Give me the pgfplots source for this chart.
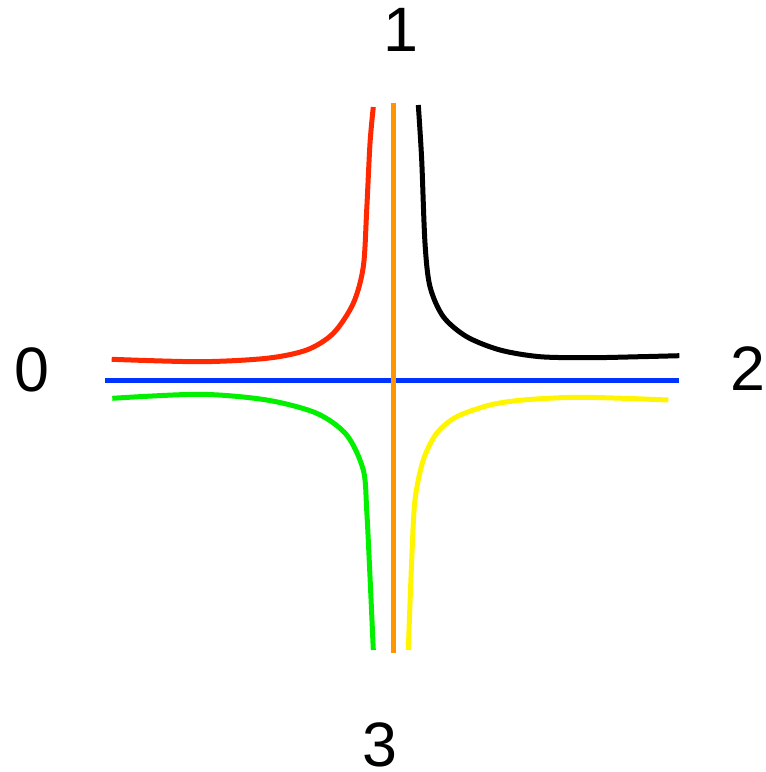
\documentclass[border=0pt]{standalone}
\usepackage{pgfplots}
\pgfplotsset{compat=1.18}
\usepackage{fontspec}
\setmainfont{Liberation Sans}
\definecolor{cred}{RGB}{255,40,0}
\definecolor{cblue}{RGB}{0,51,255}
\definecolor{cgreen}{RGB}{0,240,0}
\definecolor{cyellow}{RGB}{255,245,0}
\definecolor{corange}{RGB}{255,150,0}
\begin{document}
\begin{tikzpicture}
\begin{axis}[
  width=766bp, height=772bp, scale only axis,
  xmin=0, xmax=766, ymin=0, ymax=772, y dir=reverse,
  hide axis, clip=false,
  every axis plot/.append style={line width=5bp, line cap=butt, line join=round},
]
\addplot[draw=none, forget plot] coordinates {(0,0) (766,772)};
% red: 0 -> 1
\addplot[cred, smooth, tension=0.5] coordinates {
(111.7,359.3) (200,361.7) (266.7,358.3) (306.7,350) (333.3,333.3) (353.3,303.3) (363.3,266.7) (366.7,210) (370,143.3) (373.3,107)};
% black: 1 -> 2
\addplot[black, smooth, tension=0.5] coordinates {
(418.3,105) (421.7,160) (425,243.3) (430,286.7) (443.3,316.7) (466.7,336.7) (500,350) (540,356.7) (590,357.7) (640,356.7) (679.3,355.7)};
% green: 0 -> 3
\addplot[cgreen, smooth, tension=0.5] coordinates {
(112.3,398.3) (200,394.3) (266.7,400) (316.7,413.3) (346.7,435) (363.3,470) (366.7,510) (370,576.7) (373.3,650)};
% yellow: 3 -> 2
\addplot[cyellow, smooth, tension=0.5] coordinates {
(408.3,650) (411.7,560) (415,500) (423.3,460) (436.7,433.3) (456.7,416.7) (490,405) (523.3,400) (573.3,397.3) (623.3,398.3) (668.3,400)};
% blue: 0 -> 2
\addplot[cblue] coordinates {(105,380) (679,380)};
% orange: 1 -> 3
\addplot[corange] coordinates {(393,103) (393,652.7)};
\node[inner sep=0pt, font=\fontsize{63}{63}\selectfont] at (axis cs:401,30) {1};
\node[inner sep=0pt, font=\fontsize{63}{63}\selectfont] at (axis cs:32,370) {0};
\node[inner sep=0pt, font=\fontsize{63}{63}\selectfont] at (axis cs:748,369) {2};
\node[inner sep=0pt, font=\fontsize{63}{63}\selectfont] at (axis cs:380,745) {3};
\end{axis}
\end{tikzpicture}
\end{document}
